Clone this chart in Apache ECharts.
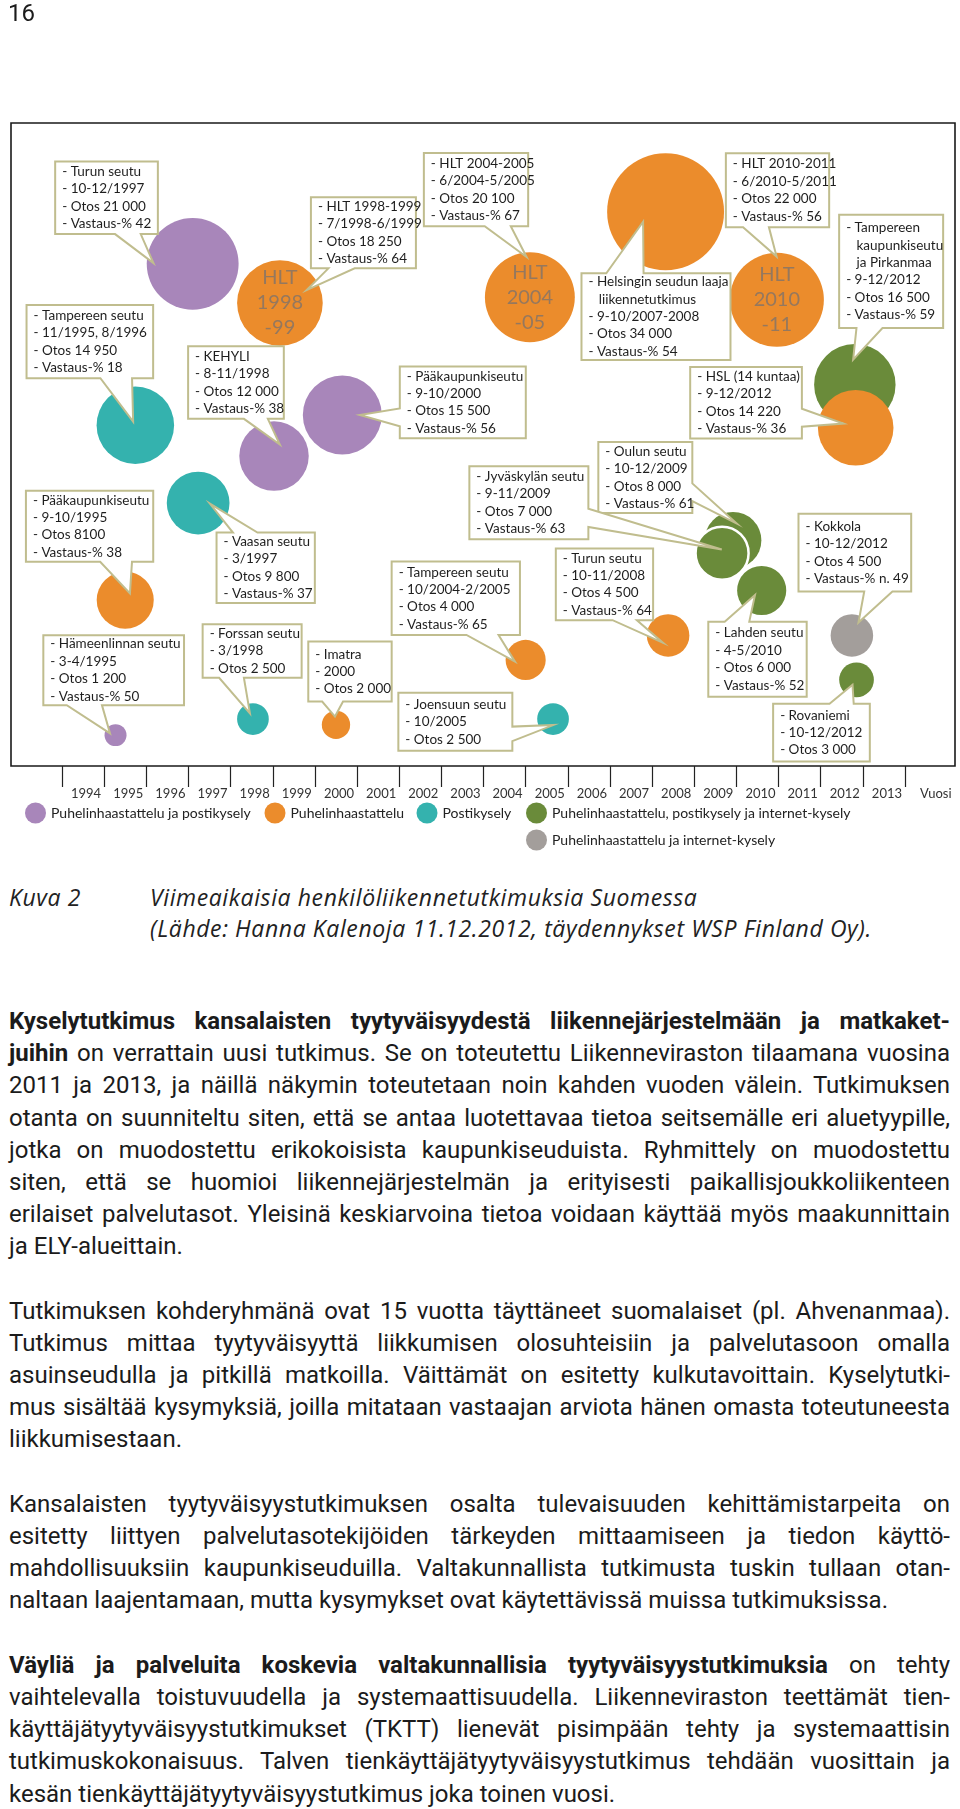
<!DOCTYPE html>
<html><head><meta charset="utf-8">
<script src="https://cdn.jsdelivr.net/npm/echarts@6/dist/echarts.min.js"></script>
<style>
html,body{margin:0;padding:0;background:#fff;}
body{width:960px;height:1809px;position:relative;overflow:hidden;font-family:Roboto,sans-serif;color:#1b1b1b;}
#chart{position:absolute;left:0;top:0;width:960px;height:870px;}
.pn{position:absolute;left:8px;top:0;font-size:24px;line-height:27px;z-index:2;}
.cap{position:absolute;font-family:'Open Sans',sans-serif;font-style:italic;font-size:23px;line-height:31px;color:#222;z-index:2;letter-spacing:0.6px;}
.body{position:absolute;left:9px;top:1005px;width:941px;font-size:24px;line-height:32.2px;z-index:2;}
.j,.l{height:32.2px;white-space:nowrap;text-align:left;}
.g{height:32.2px;}
</style></head>
<body>
<div id="chart"></div>
<div class="pn">16</div>
<div class="cap" style="left:9px;top:882px;">Kuva 2</div>
<div class="cap" style="left:150px;top:882px;">Viimeaikaisia henkilöliikennetutkimuksia Suomessa<br>(Lähde: Hanna Kalenoja 11.12.2012, täydennykset WSP Finland Oy).</div>
<div class="body">
<div class="j"><b>Kyselytutkimus kansalaisten tyytyväisyydestä liikennejärjestelmään ja matkaket-</b></div>
<div class="j"><b>juihin</b> on verrattain uusi tutkimus. Se on toteutettu Liikenneviraston tilaamana vuosina</div>
<div class="j">2011 ja 2013, ja näillä näkymin toteutetaan noin kahden vuoden välein. Tutkimuksen</div>
<div class="j">otanta on suunniteltu siten, että se antaa luotettavaa tietoa seitsemälle eri aluetyypille,</div>
<div class="j">jotka on muodostettu erikokoisista kaupunkiseuduista. Ryhmittely on muodostettu</div>
<div class="j">siten, että se huomioi liikennejärjestelmän ja erityisesti paikallisjoukkoliikenteen</div>
<div class="j">erilaiset palvelutasot. Yleisinä keskiarvoina tietoa voidaan käyttää myös maakunnittain</div>
<div class="l">ja ELY-alueittain.</div>
<div class="g"></div>
<div class="j">Tutkimuksen kohderyhmänä ovat 15 vuotta täyttäneet suomalaiset (pl. Ahvenanmaa).</div>
<div class="j">Tutkimus mittaa tyytyväisyyttä liikkumisen olosuhteisiin ja palvelutasoon omalla</div>
<div class="j">asuinseudulla ja pitkillä matkoilla. Väittämät on esitetty kulkutavoittain. Kyselytutki-</div>
<div class="j">mus sisältää kysymyksiä, joilla mitataan vastaajan arviota hänen omasta toteutuneesta</div>
<div class="l">liikkumisestaan.</div>
<div class="g"></div>
<div class="j">Kansalaisten tyytyväisyystutkimuksen osalta tulevaisuuden kehittämistarpeita on</div>
<div class="j">esitetty liittyen palvelutasotekijöiden tärkeyden mittaamiseen ja tiedon käyttö-</div>
<div class="j">mahdollisuuksiin kaupunkiseuduilla. Valtakunnallista tutkimusta tuskin tullaan otan-</div>
<div class="l">naltaan laajentamaan, mutta kysymykset ovat käytettävissä muissa tutkimuksissa.</div>
<div class="g"></div>
<div class="j"><b>Väyliä ja palveluita koskevia valtakunnallisia tyytyväisyystutkimuksia</b> on tehty</div>
<div class="j">vaihtelevalla toistuvuudella ja systemaattisuudella. Liikenneviraston teettämät tien-</div>
<div class="j">käyttäjätyytyväisyystutkimukset (TKTT) lienevät pisimpään tehty ja systemaattisin</div>
<div class="j">tutkimuskokonaisuus. Talven tienkäyttäjätyytyväisyystutkimus tehdään vuosittain ja</div>
<div class="l">kesän tienkäyttäjätyytyväisyystutkimus joka toinen vuosi.</div>
</div>
<script>
// ---------- DATA ----------
const years = ['1994','1995','1996','1997','1998','1999','2000','2001','2002','2003','2004','2005','2006','2007','2008','2009','2010','2011','2012','2013'];
const methods = ['Puhelinhaastattelu ja postikysely','Puhelinhaastattelu','Postikysely','Puhelinhaastattelu, postikysely ja internet-kysely','Puhelinhaastattelu ja internet-kysely'];
const studies = ['Hämeenlinnan seutu','Pääkaupunkiseutu','Tampereen seutu','Vaasan seutu','Turun seutu','Forssan seutu','KEHYLI','HLT 1998-1999','Imatra','Pääkaupunkiseutu','HLT 2004-2005','Tampereen seutu','Joensuun seutu','Helsingin seudun laaja\nliikennetutkimus','Turun seutu','Oulun seutu','Jyväskylän seutu','Lahden seutu','HLT 2010-2011','HSL (14 kuntaa)','Tampereen\nkaupunkiseutu\nja Pirkanmaa','Kokkola','Rovaniemi'];
const periods = ['3-4/1995','9-10/1995','11/1995, 8/1996','3/1997','10-12/1997','3/1998','8-11/1998','7/1998-6/1999','2000','9-10/2000','6/2004-5/2005','10/2004-2/2005','10/2005','9-10/2007-2008','10-11/2008','10-12/2009','9-11/2009','4-5/2010','6/2010-5/2011','9-12/2012','9-12/2012','10-12/2012','10-12/2012'];
const otos = [1200,8100,14950,9800,21000,2500,12000,18250,2000,15500,20100,4000,2500,34000,4500,8000,7000,6000,22000,14220,16500,4500,3000];
const otosText = ['1 200','8100','14 950','9 800','21 000','2 500','12 000','18 250','2 000','15 500','20 100','4 000','2 500','34 000','4 500','8 000','7 000','6 000','22 000','14 220','16 500','4 500','3 000'];
const vastaus = ['50','38','18','37','42','','38','64','','56','67','65','','54','64','61','63','52','56','36','59','n. 49',''];
const methodOf = [0,1,2,2,0,2,0,1,1,0,1,1,2,1,1,3,3,3,1,1,3,4,3];
const yearPos = [1995.27,1995.50,1995.74,1997.23,1997.10,1998.53,1999.03,1999.17,2000.50,2000.65,2005.10,2005.00,2005.65,2008.32,2008.38,2009.92,2009.66,2010.60,2010.96,2012.83,2012.81,2012.74,2012.85];
const rowPos = [4.8,25.8,53.0,40.9,78.1,7.3,48.2,72.0,6.4,54.6,72.9,16.5,7.3,86.2,20.3,35.1,33.1,27.3,72.5,52.6,59.3,20.3,13.4];
const innerText = ['','','','','','','','HLT\n1998\n-99','','','HLT\n2004\n-05','','','','','','','','HLT\n2010\n-11','','','',''];

// ---------- LAYOUT / STYLE ----------
// callout box offset from bubble centre [dx, dy, w, h, tipDx, tipDy]
const calloutLayout = [
 [-72.2,-100,140.7,70,-5.5,-1.7],
 [-99.3,-109.3,127.3,71,4.7,-6.7],
 [-108.8,-120.3,126.6,73.3,-2.2,-3.6],
 [18.4,29.6,98.3,70.4,11.7,0.6],
 [-137.5,-102.3,102.7,72.6,-39.2,-0.7],
 [-50.3,-94.7,99,53.4,-3,-5.7],
 [-85.9,-109.8,95.7,72.6,5.8,-11.5],
 [31,-105.7,105,71,26.7,-13],
 [-27.7,-83.3,83.4,60,-1,-8.3],
 [57.5,-48.3,126,71.6,17.5,0],
 [-106,-144.3,104.3,73.3,-3.3,-40.3],
 [-134,-98.3,128.3,73.3,-10.7,1.7],
 [-154.7,-26.3,114,58,0.3,6],
 [-84.1,61.6,149,86.7,-22.5,10],
 [-112.3,-87,97.3,71.7,-5,7.4],
 [-134.7,-98.3,94,71,3.7,-16.7],
 [-252.7,-87,119,73,-0.3,-3.7],
 [-53.4,31.2,98.4,75,-6.7,4.5],
 [-51,-146.7,103.3,74,-0.3,-43.3],
 [-165.5,-60.8,111.7,71.6,-12.2,-4.2],
 [-15.7,-170,104,113.3,-1.7,-25],
 [-53.4,-121.7,112.7,77.7,6.6,-13],
 [-83.4,24,96.7,57.7,-4,5]
];
const methodColors = ['#a886ba','#eb8c2c','#34b2ae','#6a8b3a','#a39e9b'];
const drawOrder = [0,2,4,3,1];
const ringed = [16];
const legendPos = [[25,802.5],[264.5,802.5],[416.5,802.5],[526,802.5],[526,829.5]];

function infoLines(i){
  const parts = studies[i].split('\n');
  const out = ['- ' + parts[0]];
  for (let k=1;k<parts.length;k++) out.push('   ' + parts[k]);
  out.push('- ' + periods[i]);
  out.push('- Otos ' + otosText[i]);
  if (vastaus[i]) out.push('- Vastaus-% ' + vastaus[i]);
  return out.join('\n');
}
function calloutPoints(x0,y0,w,h,tx,ty){
  const cx=x0+w/2, cy=y0+h/2, dx=tx-cx, dy=ty-cy, x1=x0+w, y1=y0+h;
  if (Math.abs(dx)*h > Math.abs(dy)*w){
    const ya = dy>0 ? y0+h*7/12 : y0+h*2/12;
    const yb = dy>0 ? y0+h*10/12 : y0+h*5/12;
    if (dx>0) return [[x0,y0],[x1,y0],[x1,ya],[tx,ty],[x1,yb],[x1,y1],[x0,y1]];
    return [[x0,y0],[x1,y0],[x1,y1],[x0,y1],[x0,yb],[tx,ty],[x0,ya]];
  } else {
    const xa = dx>0 ? x0+w*7/12 : x0+w*2/12;
    const xb = dx>0 ? x0+w*10/12 : x0+w*5/12;
    if (dy>0) return [[x0,y0],[x1,y0],[x1,y1],[xb,y1],[tx,ty],[xa,y1],[x0,y1]];
    return [[x0,y0],[xa,y0],[tx,ty],[xb,y0],[x1,y0],[x1,y1],[x0,y1]];
  }
}

const chart = echarts.init(document.getElementById('chart'), null, {renderer:'canvas'});
const scatterSeries = drawOrder.map(m => ({
  type:'scatter', name: methods[m], xAxisIndex:0, yAxisIndex:0, clip:false,
  itemStyle:{color:methodColors[m], opacity:1},
  symbolSize: v => 0.634*Math.sqrt(v[2]),
  label:{show:true, position:'inside', formatter: p => innerText[p.value[3]],
    fontFamily:'Lato', fontSize:20, lineHeight:25, color:'#95785e'},
  emphasis:{disabled:true},
  data: studies.map((s,i)=>i).filter(i=>methodOf[i]===m).map(i => ({
    value:[yearPos[i], rowPos[i], otos[i], i],
    itemStyle: ringed.includes(i) ? {borderColor:'#fff', borderWidth:2.5} : undefined
  }))
}));

const calloutSeries = {
  type:'custom', xAxisIndex:0, yAxisIndex:0, z:10, silent:true,
  data: studies.map((s,i)=>[yearPos[i], rowPos[i], i]),
  renderItem: function(params, api){
    const i = api.value(2);
    const c = api.coord([api.value(0), api.value(1)]);
    const L = calloutLayout[i];
    const x0=c[0]+L[0], y0=c[1]+L[1], w=L[2], h=L[3];
    const pts = calloutPoints(x0,y0,w,h,c[0]+L[4],c[1]+L[5]);
    return {type:'group', children:[
      {type:'polygon', shape:{points:pts}, style:{fill:'#fff', stroke:'#c0bd8e', lineWidth:2, lineJoin:'miter'}},
      {type:'text', style:{text:infoLines(i), x:x0+7, y:y0+h/2, verticalAlign:'middle', align:'left',
        fontFamily:'Lato', fontSize:13.5, lineHeight:17.4, fill:'#1e1e1e'}}
    ]};
  }
};

chart.setOption({
  animation:false,
  textStyle:{fontFamily:'Lato'},
  grid:{left:62, right:55, top:123, bottom:104, containLabel:false},
  xAxis:[
    {type:'value', min:1994, max:2014, show:false, gridIndex:0},
    {type:'category', data:years, position:'bottom', gridIndex:0, boundaryGap:true,
     axisLine:{show:false},
     axisTick:{show:true, alignWithLabel:false, inside:false, length:21, lineStyle:{color:'#222', width:1.2}},
     axisLabel:{show:true, margin:21, fontSize:13, color:'#333', fontFamily:'Lato', padding:[0,0,0,6]},
     splitLine:{show:false}}
  ],
  yAxis:{type:'value', min:0, max:100, show:false},
  legend: methods.map((m,k)=>({
    data:[{name:m, icon:'circle'}], left:legendPos[k][0], top:legendPos[k][1], padding:0,
    itemWidth:21, itemHeight:21, selectedMode:false,
    textStyle:{fontSize:14, color:'#222', fontFamily:'Lato'}
  })),
  graphic:[
    {type:'rect', shape:{x:11, y:123, width:944, height:643}, style:{fill:'none', stroke:'#1a1a1a', lineWidth:1.6}, silent:true},
    {type:'text', x:920, y:794, style:{text:'Vuosi', verticalAlign:'middle', fontSize:13, fill:'#333', fontFamily:'Lato'}, silent:true}
  ],
  series: scatterSeries.concat([calloutSeries])
});

// justify each body line to the full column width
function justifyLines(){
  const W = 941;
  document.querySelectorAll('.body .j').forEach(el => {
    if (!el.firstElementChild || el.firstElementChild.className !== 'in') {
      el.innerHTML = '<span class="in">' + el.innerHTML + '</span>';
    }
    el.style.wordSpacing = '0px'; el.style.letterSpacing = '0px';
    const w0 = el.firstElementChild.getBoundingClientRect().width;
    const txt = el.textContent;
    const n = (txt.match(/ /g) || []).length;
    let ws = (W - w0) / Math.max(n,1), ls = 0;
    if (ws < -2) { ws = -2; ls = (W - w0 + 2*n) / txt.length; }
    el.style.wordSpacing = ws + 'px';
    el.style.letterSpacing = ls + 'px';
  });
}
justifyLines();
if (document.fonts && document.fonts.ready) document.fonts.ready.then(justifyLines);
</script>
</body></html>
